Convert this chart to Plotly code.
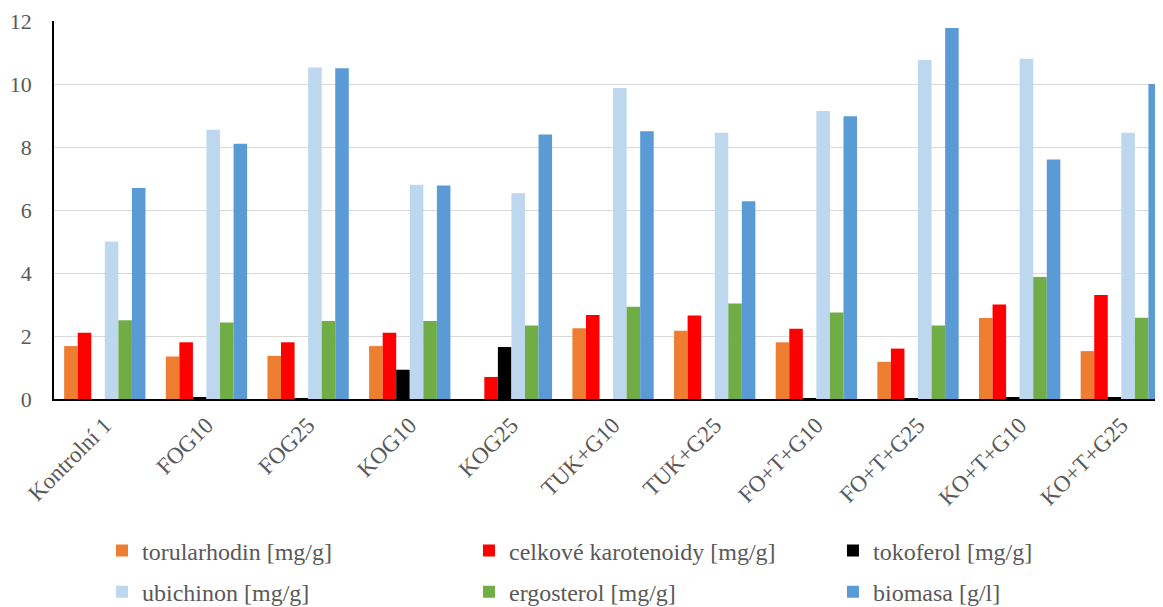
import plotly.graph_objects as go

categories = ["Kontrolní 1", "FOG10", "FOG25", "KOG10", "KOG25", "TUK+G10",
              "TUK+G25", "FO+T+G10", "FO+T+G25", "KO+T+G10", "KO+T+G25"]

torularhodin = [1.68, 1.35, 1.37, 1.68, 0.0, 2.25, 2.17, 1.80, 1.18, 2.57, 1.52]
karotenoidy = [2.10, 1.80, 1.80, 2.10, 0.70, 2.67, 2.65, 2.23, 1.60, 3.00, 3.30]
tokoferol = [0.0, 0.04, 0.03, 0.93, 1.65, 0.0, 0.0, 0.03, 0.02, 0.04, 0.04]
ubichinon = [5.00, 8.55, 10.52, 6.80, 6.53, 9.87, 8.45, 9.14, 10.76, 10.80, 8.45]
ergosterol = [2.50, 2.43, 2.48, 2.48, 2.33, 2.93, 3.03, 2.75, 2.33, 3.87, 2.58]
biomasa = [6.70, 8.10, 10.50, 6.78, 8.40, 8.50, 6.28, 8.98, 11.78, 7.60, 10.00]

series = [
    ("torularhodin [mg/g]", torularhodin, "#ED7D31", "legend"),
    ("celkové karotenoidy [mg/g]", karotenoidy, "#FF0000", "legend2"),
    ("tokoferol [mg/g]", tokoferol, "#000000", "legend3"),
    ("ubichinon [mg/g]", ubichinon, "#BDD7EE", "legend"),
    ("ergosterol [mg/g]", ergosterol, "#70AD47", "legend2"),
    ("biomasa [g/l]", biomasa, "#5B9BD5", "legend3"),
]

fig = go.Figure()
for i, (name, vals, col, leg) in enumerate(series):
    fig.add_trace(go.Bar(
        name=name, x=categories, y=vals, legend=leg, legendgroup=f"g{i}",
        marker=dict(color=col, line=dict(width=0)),
    ))

font_family = '"Liberation Serif", "Times New Roman", serif'
grey = "#595959"
legend_common = dict(
    orientation="v", yanchor="top", xanchor="left", y=-0.3426,
    font=dict(family=font_family, size=24, color=grey),
    tracegroupgap=7, bgcolor="rgba(0,0,0,0)",
)
fig.update_layout(
    width=1155, height=599,
    template="none",
    barmode="group", bargap=0.2, bargroupgap=0,
    plot_bgcolor="white", paper_bgcolor="white",
    margin=dict(l=46, r=0, t=13, b=208, pad=0, autoexpand=False),
    font=dict(family=font_family, size=22, color=grey),
    xaxis=dict(
        tickangle=-45, tickfont=dict(family=font_family, size=23, color=grey),
        showline=True, linecolor="black", linewidth=1.5,
        ticks="", range=[-0.5, 10.41], automargin=False, showgrid=False,
        ticklabelstandoff=2,
    ),
    yaxis=dict(
        range=[0, 12], dtick=2, tickfont=dict(family=font_family, size=22, color=grey),
        showline=True, linecolor="black", linewidth=1.5,
        showgrid=True, gridcolor="#D9D9D9", gridwidth=1,
        ticks="", ticklabelstandoff=16, zeroline=False, automargin=False,
    ),
    legend=dict(x=0.0433, **legend_common),
    legend2=dict(x=0.3742, **legend_common),
    legend3=dict(x=0.7024, **legend_common),
)

fig.write_html("out.html")
